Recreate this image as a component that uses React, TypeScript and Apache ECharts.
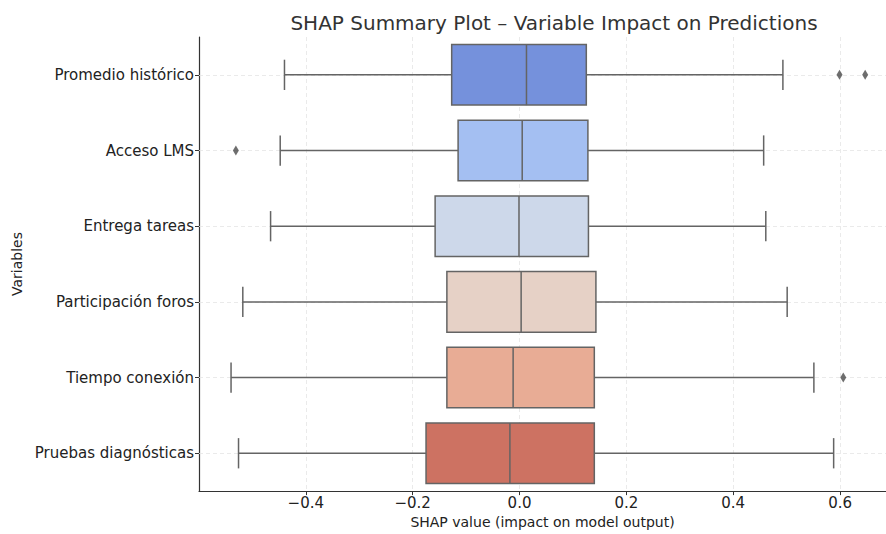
import React, { useEffect, useRef } from "react";
import * as echarts from "echarts";

const categories = [
  "Promedio histórico",
  "Acceso LMS",
  "Entrega tareas",
  "Participación foros",
  "Tiempo conexión",
  "Pruebas diagnósticas",
];
const whiskerLow = [-0.44, -0.448, -0.466, -0.518, -0.54, -0.526];
const q1 = [-0.127, -0.115, -0.158, -0.136, -0.136, -0.175];
const median = [0.013, 0.005, -0.001, 0.003, -0.012, -0.018];
const q3 = [0.125, 0.128, 0.129, 0.143, 0.14, 0.14];
const whiskerHigh = [0.493, 0.457, 0.461, 0.501, 0.551, 0.588];
const outliers: number[][] = [[0.599, 0.647], [-0.531], [], [], [0.606], []];
const boxColors = ["#7591dc", "#a4bff2", "#cdd8ea", "#e6d1c6", "#e8ac95", "#cd7262"];

const FONT = "DejaVu Sans";
const EDGE = "#646464";
const GRID = "#e4e4e4";

export default function App() {
  const ref = useRef<HTMLDivElement>(null);
  useEffect(() => {
    const chart = echarts.init(ref.current!, null, { renderer: "svg" });
    const boxData = categories.map((_, i) => [i, whiskerLow[i], q1[i], median[i], q3[i], whiskerHigh[i]]);
    const outlierData: number[][] = [];
    outliers.forEach((arr, i) => arr.forEach((v) => outlierData.push([v, i])));

    chart.setOption({
      animation: false,
      textStyle: { fontFamily: FONT },
      title: {
        text: "SHAP Summary Plot – Variable Impact on Predictions",
        left: 549,
        top: 8,
        textAlign: "center",
        textStyle: { fontFamily: FONT, fontSize: 20, fontWeight: "normal", color: "#333" },
      },
      grid: { left: 199, width: 687, top: 37, height: 457, containLabel: false },
      xAxis: {
        type: "value",
        min: -0.6,
        max: 0.686,
        interval: 0.2,
        name: "SHAP value (impact on model output)",
        nameLocation: "middle",
        nameGap: 21,
        nameTextStyle: { fontFamily: FONT, fontSize: 14, color: "#222" },
        axisLine: { show: true, onZero: false, lineStyle: { color: "#333", width: 1.2 } },
        axisTick: { show: true, length: 4, lineStyle: { color: "#333" } },
        axisLabel: {
          showMinLabel: false,
          showMaxLabel: false,
          fontFamily: FONT,
          fontSize: 15,
          color: "#222",
          margin: 4,
          formatter: (v: number) => {
            if (Math.abs(v + 0.6) < 1e-6) return "";
            const s = Math.abs(v).toFixed(1);
            return v < -1e-9 ? "\u2212" + s : s;
          },
        },
        splitLine: { show: true, lineStyle: { color: GRID, type: [4, 3], width: 0.8 } },
      },
      yAxis: {
        type: "category",
        data: categories,
        inverse: true,
        name: "Variables",
        nameLocation: "middle",
        nameGap: 174,
        nameRotate: 90,
        nameTextStyle: { fontFamily: FONT, fontSize: 14, color: "#222" },
        axisLine: { show: true, onZero: false, lineStyle: { color: "#333", width: 1.2 } },
        axisTick: { show: true, alignWithLabel: true, length: 4, lineStyle: { color: "#333" } },
        axisLabel: { fontFamily: FONT, fontSize: 15, color: "#222", margin: 5 },
        splitLine: { show: false },
      },
      series: [
        {
          type: "scatter",
          data: [],
          z: 1,
          silent: true,
          markLine: {
            z: 1,
            silent: true,
            symbol: ["none", "none"],
            label: { show: false },
            lineStyle: { color: GRID, type: [4, 3], width: 0.8 },
            data: categories.map((c) => ({ yAxis: c })),
          },
        },
        {
          type: "custom",
          data: boxData,
          encode: { x: [1, 2, 3, 4, 5], y: 0 },
          z: 3,
          renderItem: (params: any, api: any) => {
            const c = api.value(0);
            const pMin = api.coord([api.value(1), c]);
            const pQ1 = api.coord([api.value(2), c]);
            const pMed = api.coord([api.value(3), c]);
            const pQ3 = api.coord([api.value(4), c]);
            const pMax = api.coord([api.value(5), c]);
            const band = api.size([0, 1])[1];
            const hh = band * 0.4;
            const capH = band * 0.2;
            const y = pMed[1];
            const lineStyle = { stroke: EDGE, lineWidth: 1.5 };
            return {
              type: "group",
              children: [
                { type: "line", shape: { x1: pMin[0], y1: y, x2: pQ1[0], y2: y }, style: lineStyle },
                { type: "line", shape: { x1: pQ3[0], y1: y, x2: pMax[0], y2: y }, style: lineStyle },
                { type: "line", shape: { x1: pMin[0], y1: y - capH, x2: pMin[0], y2: y + capH }, style: lineStyle },
                { type: "line", shape: { x1: pMax[0], y1: y - capH, x2: pMax[0], y2: y + capH }, style: lineStyle },
                {
                  type: "rect",
                  shape: { x: pQ1[0], y: y - hh, width: pQ3[0] - pQ1[0], height: hh * 2 },
                  style: { fill: boxColors[c], stroke: EDGE, lineWidth: 1.5 },
                },
                { type: "line", shape: { x1: pMed[0], y1: y - hh, x2: pMed[0], y2: y + hh }, style: lineStyle },
              ],
            };
          },
        },
        {
          type: "scatter",
          data: outlierData,
          symbol: "diamond",
          symbolSize: [6, 10],
          itemStyle: { color: "#4a4a4a" },
          z: 4,
        },
      ],
    });
    return () => chart.dispose();
  }, []);
  return (
    <div
      ref={ref}
      style={{ position: "fixed", left: 0, top: 0, width: 886, height: 534, background: "#fff" }}
    />
  );
}
